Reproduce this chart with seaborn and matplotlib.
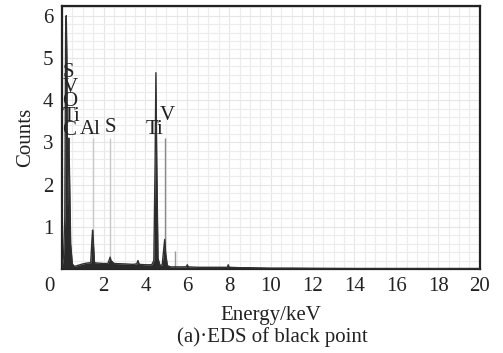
import numpy as np
import pandas as pd
import matplotlib
matplotlib.use("Agg")
import matplotlib.pyplot as plt
import matplotlib.transforms as mtransforms
import seaborn as sns

# ---- data ----
spec_energy = [0.00, 0.08, 0.14, 0.18, 0.21, 0.24, 0.27, 0.30, 0.33, 0.36, 0.42, 0.50, 0.60,
               0.80, 1.00, 1.20, 1.38, 1.44, 1.47, 1.50, 1.56, 1.70, 2.00, 2.20, 2.27, 2.31,
               2.35, 2.50, 3.00, 3.40, 3.58, 3.64, 3.70, 4.00, 4.30, 4.40, 4.46, 4.50, 4.54,
               4.60, 4.70, 4.80, 4.87, 4.92, 4.97, 5.05, 5.20, 5.60, 5.95, 6.00, 6.05, 6.50,
               7.00, 7.60, 7.92, 7.96, 8.00, 8.50, 9.00, 10.0, 11.0, 12.0, 14.0, 20.0]
spec_counts = [0.00, 0.30, 1.20, 5.60, 6.00, 5.00, 1.50, 2.60, 3.10, 2.40, 0.60, 0.12, 0.06,
               0.09, 0.12, 0.14, 0.15, 0.70, 0.92, 0.70, 0.15, 0.14, 0.13, 0.13, 0.22, 0.28,
               0.20, 0.13, 0.12, 0.11, 0.12, 0.20, 0.11, 0.10, 0.10, 0.20, 2.50, 4.65, 2.50,
               0.25, 0.08, 0.10, 0.45, 0.70, 0.35, 0.08, 0.05, 0.05, 0.05, 0.10, 0.05, 0.04,
               0.04, 0.04, 0.04, 0.10, 0.04, 0.03, 0.03, 0.02, 0.02, 0.015, 0.01, 0.01]

marker_energy = [1.49, 2.31, 4.95, 5.43]
marker_height = [3.10, 3.10, 3.10, 0.42]
marker_color = ["#c8c8c8", "#c8c8c8", "#8a8a8a", "#9a9a9a"]

stack_labels = ["S", "V", "O", "Ti", "C"]
label_text = ["Al", "S", "Ti", "V"]
label_x = [1.35, 2.30, 4.45, 5.05]
label_y = [3.30, 3.35, 3.30, 3.64]

x_ticks = [0, 2, 4, 6, 8, 10, 12, 14, 16, 18, 20]
y_ticks = [1, 2, 3, 4, 5, 6]

sns.set_theme(style="white")
plt.rcParams["font.family"] = ["Liberation Serif", "DejaVu Serif"]

FS = 15
fig = plt.figure(figsize=(5.03, 3.53), dpi=100)
ax = fig.add_axes([0.123, 0.238, 0.831, 0.745])

df = pd.DataFrame({"Energy": spec_energy, "Counts": spec_counts})

ax.set_xlim(0, 20)
ax.set_ylim(0, 6.23)

# faint grid
ax.set_xticks(np.arange(0, 20.01, 0.5), minor=True)
ax.set_yticks(np.arange(0, 6.3, 0.2), minor=True)
ax.grid(which="minor", color="#ececec", linewidth=0.8)
ax.grid(which="major", color="#e6e6e6", linewidth=0.8)
ax.set_axisbelow(True)

ax.vlines(marker_energy, 0, marker_height, colors=marker_color, linewidth=1.0, zorder=2)

ax.fill_between(df["Energy"], 0, df["Counts"], color="#2a2a2a", linewidth=0, zorder=3)
sns.lineplot(data=df, x="Energy", y="Counts", ax=ax, color="#303030", linewidth=1.0,
             zorder=4, estimator=None, sort=False)

# stacked element labels over the low-energy peak (one text block)
ax.text(0.03, 3.05, "\n".join(stack_labels), ha="left", va="bottom", fontsize=FS,
        color="#222222", linespacing=0.68, zorder=5)
for t, x, y in zip(label_text, label_x, label_y):
    ax.text(x, y, t, ha="center", va="center", fontsize=FS, color="#222222", zorder=5)

ax.set_xticks(x_ticks)
ax.set_yticks(y_ticks)
ax.set_xticklabels([str(v) for v in x_ticks])
ax.set_yticklabels([str(v) for v in y_ticks])
ax.tick_params(axis="both", which="major", direction="in", length=4, width=1,
               labelsize=FS, colors="#222222", pad=6)
ax.tick_params(axis="both", which="minor", length=0)
ax.tick_params(axis="y", pad=6)

# shift "0" label slightly left as in the reference
offset = mtransforms.ScaledTranslation(-12 / 100, 0, fig.dpi_scale_trans)
lbl0 = ax.get_xticklabels()[0]
lbl0.set_transform(lbl0.get_transform() + offset)

for s in ax.spines.values():
    s.set_visible(True)
    s.set_color("#222222")
    s.set_linewidth(1.6)

ax.set_xlabel("Energy/keV", fontsize=FS, color="#222222", labelpad=7)
ax.set_ylabel("Counts", fontsize=FS, color="#222222", labelpad=6)

fig.text(0.541, 0.045, "(a)\u00b7EDS of black point", ha="center", va="center",
         fontsize=FS, color="#222222")

fig.savefig("out.png", dpi=100)
